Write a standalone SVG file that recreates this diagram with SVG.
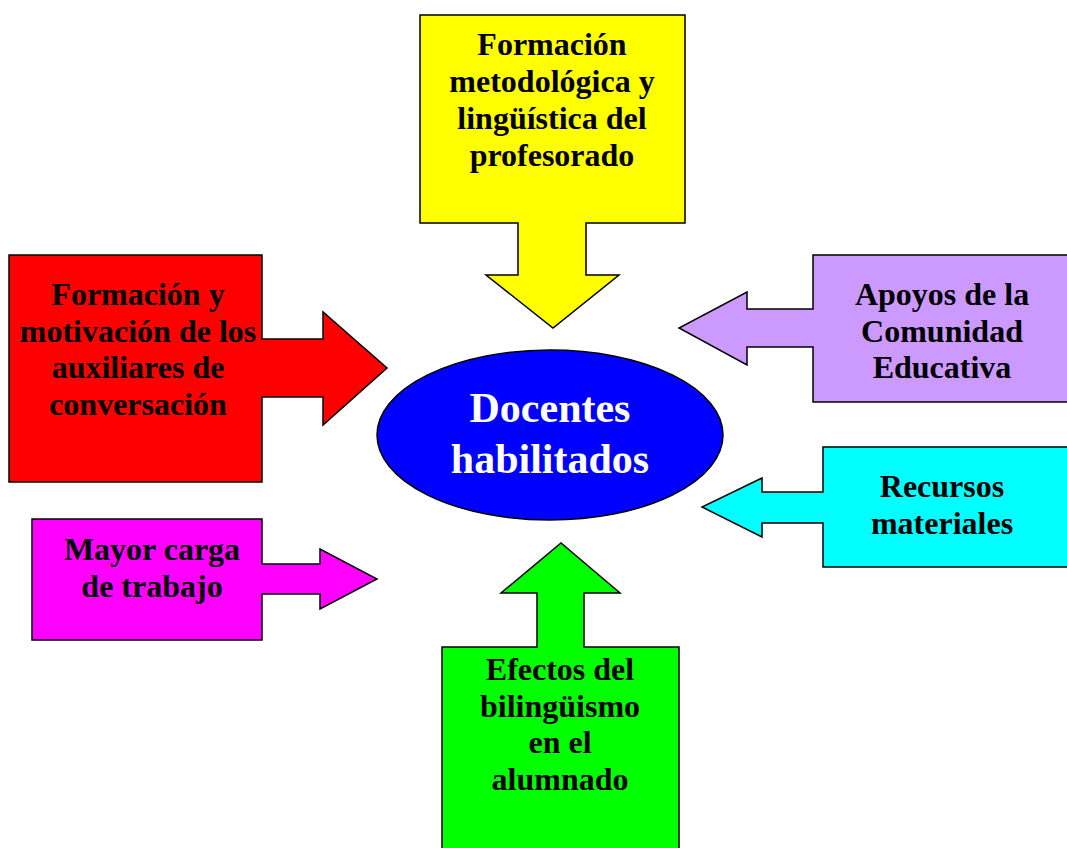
<svg xmlns="http://www.w3.org/2000/svg" width="1067" height="848" viewBox="0 0 1067 848">
  <style>
    .shape { stroke: #000; stroke-width: 1.5; stroke-linejoin: miter; }
    .lbl { font-family: "Liberation Serif", "Times New Roman", serif; font-weight: bold; font-size: 32px; fill: #000; text-anchor: middle; }
    .hub { font-family: "Liberation Serif", "Times New Roman", serif; font-weight: bold; font-size: 42px; fill: #fff; text-anchor: middle; }
  </style>
  <rect width="1067" height="848" fill="#fff"/>

  <!-- arrow-shaped callouts pointing at the central ellipse -->
  <g id="connectors"></g>

  <g id="node-formacion-profesorado">
    <path class="shape" fill="#FFFF00" d="M420,15 H685 V223 H586 V275 H619 L553,328 L486,275 H518 V223 H420 Z"/>
    <text class="lbl" x="552" y="55">Formación</text>
    <text class="lbl" x="552" y="92">metodológica y</text>
    <text class="lbl" x="552" y="129">lingüística del</text>
    <text class="lbl" x="552" y="166">profesorado</text>
  </g>

  <g id="node-auxiliares">
    <path class="shape" fill="#FF0000" d="M9,255 H262 V339 H323 V312 L387,368 L323,425 V397 H262 V482 H9 Z"/>
    <text class="lbl" x="138" y="305">Formación y</text>
    <text class="lbl" x="138" y="342">motivación de los</text>
    <text class="lbl" x="138" y="378">auxiliares de</text>
    <text class="lbl" x="138" y="415">conversación</text>
  </g>

  <g id="node-apoyos">
    <path class="shape" fill="#CC99FF" d="M813,255 H1070 V402 H813 V347 H747 V365 L679,328 L747,292 V309 H813 Z"/>
    <text class="lbl" x="942" y="305">Apoyos de la</text>
    <text class="lbl" x="942" y="342">Comunidad</text>
    <text class="lbl" x="942" y="378">Educativa</text>
  </g>

  <g id="node-recursos">
    <path class="shape" fill="#00FFFF" d="M823,447 H1070 V567 H823 V523 H762 V537 L702,507 L762,478 V492 H823 Z"/>
    <text class="lbl" x="942" y="497">Recursos</text>
    <text class="lbl" x="942" y="534">materiales</text>
  </g>

  <g id="node-carga">
    <path class="shape" fill="#FF00FF" d="M32,519 H262 V564 H320 V549 L377,579 L320,609 V594 H262 V640 H32 Z"/>
    <text class="lbl" x="152" y="560">Mayor carga</text>
    <text class="lbl" x="152" y="597">de trabajo</text>
  </g>

  <g id="node-efectos">
    <path class="shape" fill="#00FF00" d="M442,647 H537 V593 H501 L561,543 L620,593 H584 V647 H679 V852 H442 Z"/>
    <text class="lbl" x="560" y="680">Efectos del</text>
    <text class="lbl" x="560" y="717">bilingüismo</text>
    <text class="lbl" x="560" y="753">en el</text>
    <text class="lbl" x="560" y="790">alumnado</text>
  </g>

  <g id="node-docentes">
    <ellipse class="shape" fill="#0000FF" cx="550" cy="435" rx="173" ry="85"/>
    <text class="hub" x="550" y="422">Docentes</text>
    <text class="hub" x="550" y="473">habilitados</text>
  </g>
</svg>
